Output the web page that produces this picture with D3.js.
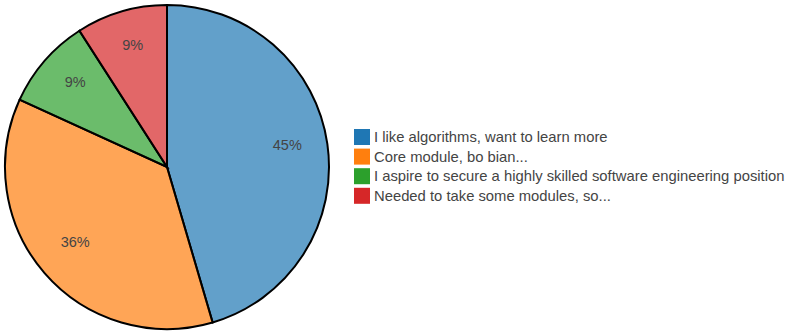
<!DOCTYPE html>
<html>
<head>
<meta charset="utf-8">
<script src="https://cdn.jsdelivr.net/npm/d3@7"></script>
<style>
  body { margin: 0; background: #fff; }
  svg { display: block; font-family: "Liberation Sans", Arial, sans-serif; }
</style>
</head>
<body>
<svg id="chart" width="787" height="331"></svg>
<script>
const categories = [
  "I like algorithms, want to learn more",
  "Core module, bo bian...",
  "I aspire to secure a highly skilled software engineering position",
  "Needed to take some modules, so..."
];
const counts = [5, 4, 1, 1];
const colors = ["#1f77b4", "#ff7f0e", "#2ca02c", "#d62728"];

const svg = d3.select("#chart");
const cx = 167, cy = 167, radius = 162;

const data = categories.map((c, i) => ({ name: c, value: counts[i], color: colors[i] }));
const total = d3.sum(counts);

const pie = d3.pie().value(d => d.value).sort(null);
const arc = d3.arc().innerRadius(0).outerRadius(radius);
const labelArc = d3.arc().innerRadius(radius * 0.75).outerRadius(radius * 0.75);

const g = svg.append("g").attr("transform", `translate(${cx},${cy})`);
const arcs = pie(data);

g.selectAll("path.slice")
  .data(arcs)
  .join("path")
  .attr("class", "slice")
  .attr("d", arc)
  .attr("fill", d => d.data.color)
  .attr("fill-opacity", 0.7)
  .attr("stroke", "#000")
  .attr("stroke-width", 2);

g.selectAll("text.pct")
  .data(arcs)
  .join("text")
  .attr("class", "pct")
  .attr("transform", d => `translate(${labelArc.centroid(d)})`)
  .attr("text-anchor", "middle")
  .attr("font-size", 14.5)
  .attr("fill", "#444")
  .text(d => Math.round(d.data.value / total * 100) + "%");

const legend = svg.append("g").attr("transform", "translate(354,129)");
const rows = legend.selectAll("g.row")
  .data(data)
  .join("g")
  .attr("class", "row")
  .attr("transform", (d, i) => `translate(0,${i * 19.6})`);

rows.append("rect")
  .attr("width", 16)
  .attr("height", 16)
  .attr("fill", d => d.color);

rows.append("text")
  .attr("x", 20)
  .attr("y", 8)
  .attr("dy", "0.35em")
  .attr("font-size", 14.8)
  .attr("fill", "#444")
  .text(d => d.name);
</script>
</body>
</html>
